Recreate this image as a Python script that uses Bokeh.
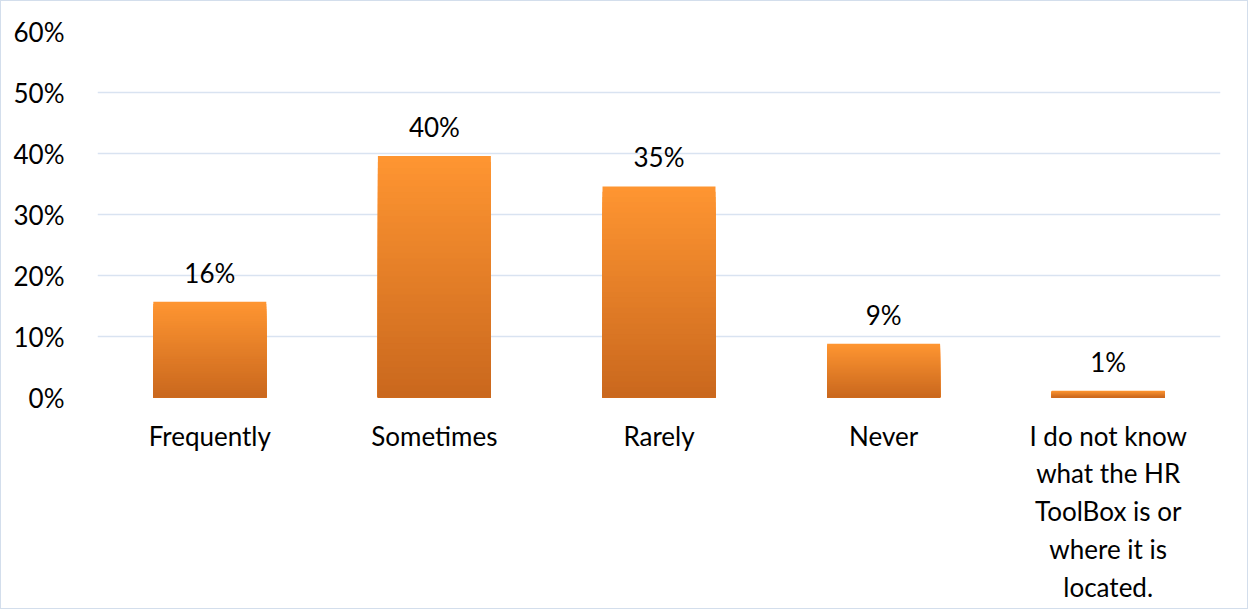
from bokeh.plotting import figure
from bokeh.models import ColumnDataSource, FactorRange, FixedTicker
from bokeh.core.properties import value
from bokeh.embed import file_html
from bokeh.resources import INLINE

categories = ["Frequently", "Sometimes", "Rarely", "Never",
              "I do not know\nwhat the HR\nToolBox is or\nwhere it is\nlocated."]
values = [15.7, 39.6, 34.6, 8.8, 1.1]
value_labels = ["16%", "40%", "35%", "9%", "1%"]
y_ticks = [0, 10, 20, 30, 40, 50, 60]
y_tick_labels = ["0%", "10%", "20%", "30%", "40%", "50%", "60%"]

FONT = "Lato"
TOP_RGB = (255, 150, 50)
BOT_RGB = (202, 104, 30)

p = figure(x_range=FactorRange(*categories), y_range=(0, 60),
           width=1248, height=609, output_backend="svg", toolbar_location=None,
           min_border_left=96, min_border_right=29, min_border_top=30,
           min_border_bottom=213)
p.styles = {"border": "1px solid #D3DEEC"}
p.outline_line_color = None
p.background_fill_color = "white"
p.border_fill_color = "white"

# gradient bars: stacked overlapping slices, tallest first
N = 40
xs, tops, cols = [], [], []
for k in range(N):
    frac = (N - k) / N
    t = (N - k - 0.5) / N
    r = int(BOT_RGB[0] + (TOP_RGB[0] - BOT_RGB[0]) * t)
    g = int(BOT_RGB[1] + (TOP_RGB[1] - BOT_RGB[1]) * t)
    b = int(BOT_RGB[2] + (TOP_RGB[2] - BOT_RGB[2]) * t)
    for c, v in zip(categories, values):
        xs.append(c)
        tops.append(v * frac)
        cols.append("#%02x%02x%02x" % (r, g, b))
src = ColumnDataSource(dict(x=xs, top=tops, color=cols))
p.vbar(x="x", top="top", bottom=0, width=0.503, source=src,
       fill_color="color", line_color=None)

lab = ColumnDataSource(dict(x=categories, y=values, t=value_labels))
p.text(x="x", y="y", text="t", source=lab, y_offset=-13,
       text_align="center", text_baseline="bottom",
       text_font=value(FONT), text_font_size="26px", text_color="#000000")

p.xgrid.grid_line_color = None
p.ygrid.grid_line_color = "#D9E3F1"
p.ygrid.grid_line_width = 1.5
p.yaxis.ticker = FixedTicker(ticks=y_ticks)
p.yaxis.major_label_overrides = {t: l for t, l in zip(y_ticks, y_tick_labels)}

for ax in (p.xaxis[0], p.yaxis[0]):
    ax.axis_line_color = None
    ax.major_tick_line_color = None
    ax.minor_tick_line_color = None
    ax.major_label_text_font = FONT
    ax.major_label_text_font_size = "26px"
    ax.major_label_text_color = "#000000"

p.yaxis.major_label_standoff = 27
p.xaxis.major_label_standoff = 16
p.xaxis.major_label_text_line_height = 1.18
p.xaxis.major_label_orientation = "horizontal"

open("out.html", "w").write(file_html(p, INLINE))
